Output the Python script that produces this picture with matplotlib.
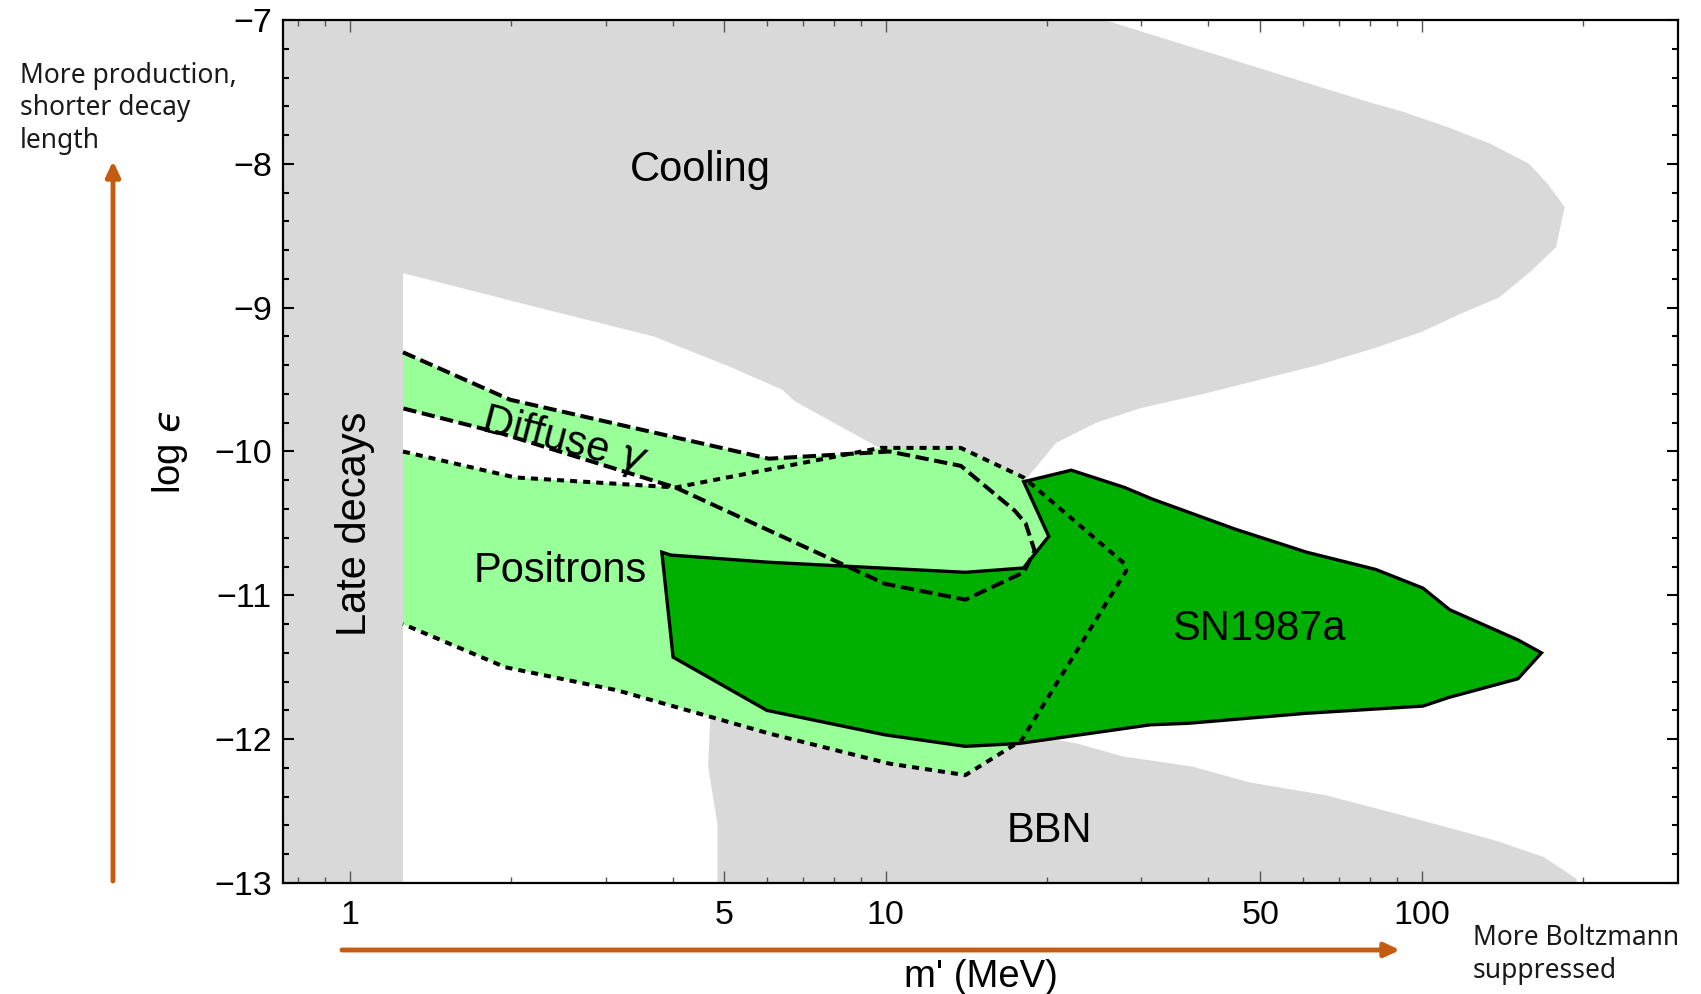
import matplotlib
matplotlib.use('Agg')
import matplotlib.pyplot as plt
from matplotlib.ticker import FixedLocator, FixedFormatter, NullFormatter, MultipleLocator

# fonts: Arial-like for the plot, humanist sans for the side notes
plt.rcParams['font.family'] = ['Liberation Sans', 'DejaVu Sans']
plt.rcParams['mathtext.fontset'] = 'dejavusans'

GRAY = '#d9d9d9'
LIGHT = '#99ff99'
DARK = '#00b000'
ORANGE = '#c55a11'

# ---------------- data: m' (MeV) and log(epsilon) ----------------
late_edge = 1.256   # right edge of the "late decays" strip

cool_m = [1.0, 25.6, 78.0, 92.7, 112.9, 134.3, 158.8, 171.9, 185.0, 178.2, 159.6,
          139.4, 118.7, 99.8, 81.9, 64.0, 50.0, 39.1, 29.8, 24.7, 20.8, 18.2, 18.0,
          13.5, 9.68, 6.76, 6.41, 5.11, 3.69, 2.81, 2.25, 1.256, 1.0]
cool_y = [-7.0, -7.0, -7.56, -7.64, -7.75, -7.86, -8.0, -8.14, -8.30, -8.58, -8.75,
          -8.93, -9.04, -9.17, -9.28, -9.40, -9.50, -9.60, -9.70, -9.80, -9.94, -10.20, -10.25,
          -10.18, -9.97, -9.65, -9.57, -9.41, -9.20, -9.09, -9.00, -8.76, -8.76]

bbn_m = [4.85, 4.85, 4.66, 4.71, 4.74, 10.0, 17.7, 20.95, 22.75, 27.7, 37.3, 47.7,
         66.3, 82.0, 108.5, 138.9, 169.1, 194.6, 194.6]
bbn_y = [-13.0, -12.585, -12.19, -11.82, -11.61, -11.76, -11.99, -12.006, -12.03, -12.12,
         -12.19, -12.30, -12.39, -12.48, -12.60, -12.71, -12.82, -12.97, -13.0]

pos_m = [1.256, 2.03, 4.05, 9.77, 13.8, 18.07, 27.9, 28.1, 17.9, 14.08, 10.16, 6.05,
         3.15, 1.95, 1.256]
pos_y = [-10.0, -10.18, -10.25, -9.975, -9.975, -10.18, -10.78, -10.83, -12.01, -12.25,
         -12.17, -11.96, -11.66, -11.50, -11.20]

dif_m = [1.256, 1.99, 6.05, 10.16, 13.81, 17.39, 18.24, 18.96, 18.6, 18.09, 14.08, 9.97,
         4.05, 1.92, 1.256]
dif_y = [-9.31, -9.64, -10.05, -10.0, -10.10, -10.41, -10.50, -10.69, -10.75, -10.84,
         -11.03, -10.92, -10.25, -9.875, -9.70]

sn_m = [3.82, 4.01, 6.00, 9.97, 14.08, 17.73, 31.2, 36.6, 61.0, 100.6, 112.4, 151.3,
        167.4, 151.3, 112.8, 100.6, 82.1, 61.0, 44.9, 31.4, 27.9, 22.2, 18.09, 20.15,
        18.07, 14.08, 6.05, 3.97]
sn_y = [-10.70, -11.43, -11.80, -11.97, -12.05, -12.03, -11.90, -11.89, -11.82, -11.77,
        -11.71, -11.58, -11.40, -11.31, -11.10, -10.95, -10.82, -10.70, -10.54, -10.33,
        -10.25, -10.13, -10.21, -10.59, -10.81, -10.84, -10.77, -10.72]

# region labels: (m, log eps)
lbl_cooling = (4.50, -8.12)
lbl_positrons = (2.466, -10.906)
lbl_sn = (49.6, -11.311)
lbl_bbn = (20.2, -12.713)
lbl_diffuse = (2.487, -10.0)
lbl_late = (1.07, -10.506)

x_major = [1, 5, 10, 50, 100]
x_labels = ['1', '5', '10', '50', '100']
x_minor = [0.8, 0.9, 2, 3, 4, 6, 7, 8, 9, 20, 30, 40, 60, 70, 80, 90, 200]

# ---------------- figure ----------------
W, H = 1701, 994
fig = plt.figure(figsize=(W / 100, H / 100), dpi=100)
ax = fig.add_axes([283 / W, 111 / H, 1395 / W, 863 / H])
ax.set_xscale('log')
ax.set_xlim(0.75, 301)
ax.set_ylim(-13, -7)

# gray excluded regions
ax.axvspan(0.5, late_edge, color=GRAY, lw=0, zorder=1)
ax.fill(cool_m, cool_y, color=GRAY, lw=0, zorder=1)
ax.fill(bbn_m, bbn_y, color=GRAY, lw=0, zorder=1)

# light green bands
ax.fill(pos_m, pos_y, color=LIGHT, lw=0, zorder=2)
ax.fill(dif_m, dif_y, color=LIGHT, lw=0, zorder=2)

# SN1987a
ax.fill(sn_m, sn_y, color=DARK, lw=0, zorder=3)

# outlines (left ends open, they sit on the late decay strip)
ax.plot(pos_m, pos_y, color='black', lw=2.9, ls=(0, (1.75, 1.5)), zorder=4)
ax.plot(dif_m, dif_y, color='black', lw=2.9, ls=(0, (3.3, 1.4)), zorder=4)
ax.fill(sn_m, sn_y, facecolor='none', edgecolor='black', lw=2.4, zorder=5)

# labels
ax.text(*lbl_cooling, 'Cooling', fontsize=30, ha='center', va='baseline', zorder=6)
ax.text(*lbl_positrons, 'Positrons', fontsize=30, ha='center', va='baseline', zorder=6)
ax.text(*lbl_sn, 'SN1987a', fontsize=30, ha='center', va='baseline', zorder=6)
ax.text(*lbl_bbn, 'BBN', fontsize=30, ha='center', va='baseline', zorder=6)
ax.text(*lbl_diffuse, r'Diffuse $\gamma$', fontsize=30, ha='center', va='baseline',
        rotation=-14.5, rotation_mode='anchor', zorder=6)
ax.text(*lbl_late, 'Late decays', fontsize=30, ha='center', va='baseline',
        rotation=90, rotation_mode='anchor', zorder=6)

# ticks
ax.xaxis.set_major_locator(FixedLocator(x_major))
ax.xaxis.set_major_formatter(FixedFormatter(x_labels))
ax.xaxis.set_minor_locator(FixedLocator(x_minor))
ax.xaxis.set_minor_formatter(NullFormatter())
ax.yaxis.set_major_locator(MultipleLocator(1))
ax.yaxis.set_minor_locator(MultipleLocator(0.2))
ax.tick_params(axis='both', which='both', direction='in', top=True, right=True)
ax.tick_params(axis='x', which='major', length=8.4, width=1.0, color='#555555',
               labelsize=24.5, pad=12, labelcolor='black')
ax.tick_params(axis='x', which='minor', length=4, width=1.0, color='#555555')
ax.tick_params(axis='y', which='major', length=7.7, width=1.5, color='black',
               labelsize=24.5, pad=8)
ax.tick_params(axis='y', which='minor', length=4, width=1.5, color='black')
for sp in ax.spines.values():
    sp.set_linewidth(1.6)
    sp.set_zorder(7)

ax.set_xlabel("m' (MeV)", fontsize=27.5, va='center')
ax.xaxis.set_label_coords(0.5, -0.109)
ax.set_ylabel('log $\u03f5$', fontsize=27.5, va='center')
ax.yaxis.set_label_coords(-0.081, 0.5)

# orange direction arrows (figure pixels)
arrow = dict(arrowstyle='-|>,head_length=0.75,head_width=0.35', color=ORANGE,
             lw=3.5, mutation_scale=12, shrinkA=0, shrinkB=0)
ax.annotate('', xy=(113, H - 161), xytext=(113, H - 881), xycoords='figure pixels',
            textcoords='figure pixels', arrowprops=arrow, annotation_clip=False)
ax.annotate('', xy=(1400, H - 950), xytext=(342, H - 950), xycoords='figure pixels',
            textcoords='figure pixels', arrowprops=arrow, annotation_clip=False)

fig.text(20 / W, 1 - 62 / H, 'More production,\nshorter decay\nlength', family='Noto Sans',
         fontsize=19, color='#1a1a1a', ha='left', va='top', linespacing=1.21)
fig.text(1473 / W, 1 - 924 / H, 'More Boltzmann\nsuppressed', family='Noto Sans',
         fontsize=19, color='#1a1a1a', ha='left', va='top', linespacing=1.25)

fig.savefig('out.png', dpi=100)
